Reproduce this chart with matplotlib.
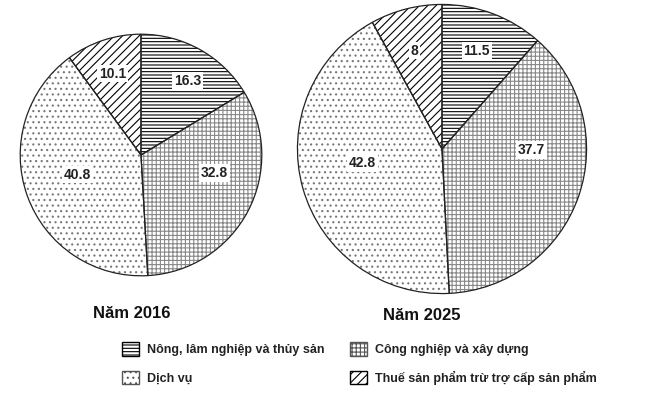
import matplotlib
matplotlib.use('Agg')
import matplotlib.pyplot as plt
from matplotlib.patches import Patch

plt.rcParams['font.family'] = ['Liberation Sans', 'DejaVu Sans']
plt.rcParams['hatch.linewidth'] = 0.8

# data
sectors = ['Nông, lâm nghiệp và thủy sản', 'Công nghiệp và xây dựng',
           'Dịch vụ', 'Thuế sản phẩm trừ trợ cấp sản phẩm']
val_2016 = [16.3, 32.8, 40.8, 10.1]
val_2025 = [11.5, 37.7, 42.8, 8]
years = ['Năm 2016', 'Năm 2025']

hatches = ['-----', '++++', '...', '////']
hatch_cols = ['black', '#888888', '#777777', 'black']

# label positions inside each pie (fraction of radius)
pos_2016 = [(0.385, 0.615), (0.607, -0.148), (-0.525, -0.164), (-0.238, 0.672)]
pos_2025 = [(0.24, 0.68), (0.62, -0.007), (-0.55, -0.096), (-0.19, 0.68)]

W, H = 645, 407
fig = plt.figure(figsize=(W / 100, H / 100), dpi=100)


def px_axes(cx, cy, r):
    return fig.add_axes([(cx - r) / W, (H - cy - r) / H, 2 * r / W, 2 * r / H])


def draw_pie(ax, vals, pos):
    wedges, _ = ax.pie(vals, startangle=90, counterclock=False, radius=1,
                       colors=['white'] * 4)
    for w, h, c in zip(wedges, hatches, hatch_cols):
        w.set_hatch(h)
        w.set_edgecolor(c)
        w.set_linewidth(0)
    # outlines on top
    ax.pie(vals, startangle=90, counterclock=False, radius=1,
           wedgeprops=dict(fill=False, edgecolor='#222222', linewidth=0.9))
    for v, (x, y) in zip(vals, pos):
        ax.text(x, y, f'{v:g}', ha='center', va='center', fontsize=10,
                fontweight='bold', color='#222222',
                bbox=dict(facecolor='white', edgecolor='none', pad=1.2))
    ax.set_xlim(-1.01, 1.01)
    ax.set_ylim(-1.01, 1.01)
    ax.set_aspect('equal')
    ax.axis('off')


ax1 = px_axes(141, 155, 122)
draw_pie(ax1, val_2016, pos_2016)
ax2 = px_axes(442, 149, 146)
draw_pie(ax2, val_2025, pos_2025)

fig.text(93 / W, 1 - 314 / H, years[0], fontsize=12, fontweight='bold',
         va='center', ha='left', color='#111111')
fig.text(383 / W, 1 - 316 / H, years[1], fontsize=12, fontweight='bold',
         va='center', ha='left', color='#111111')

handles = []
for i in [0, 2, 1, 3]:
    handles.append(Patch(facecolor='white', edgecolor=hatch_cols[i] if i in (0, 3) else '#555555',
                         hatch=hatches[i], label=sectors[i]))
leg = fig.legend(handles=handles, ncol=2, frameon=False,
                 loc='upper left', bbox_to_anchor=(111 / W, 1 - 331 / H),
                 prop=dict(size=9, weight='bold'), handlelength=1.35,
                 handleheight=1.3, handletextpad=0.65, columnspacing=2.0,
                 labelspacing=1.15)
for t in leg.get_texts():
    t.set_color('#222222')

fig.savefig('out.png', dpi=100, facecolor='white')
